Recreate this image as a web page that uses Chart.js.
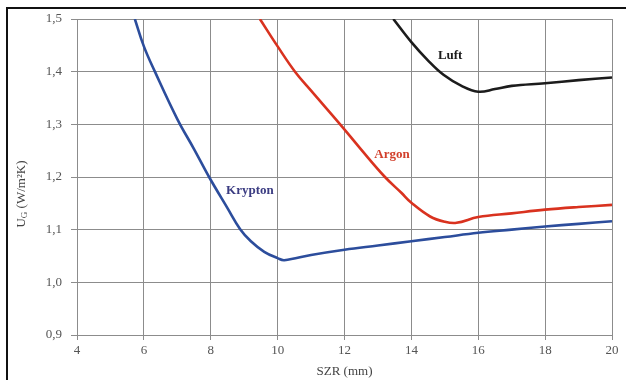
<!DOCTYPE html>
<html>
<head>
<meta charset="utf-8">
<script src="https://cdn.jsdelivr.net/npm/chart.js@4"></script>
<style>
    html, body { margin: 0; padding: 0; background: #fff; }
    #wrap { position: relative; width: 626px; height: 380px; }
    #frame { position: absolute; left: 6px; top: 7px; right: 0; bottom: 0;
             border-left: 2px solid #111; border-top: 2px solid #111; }
    #chart { position: absolute; left: 0; top: 0; }
</style>
</head>
<body>
<div id="wrap">
    <div id="frame"></div>
    <canvas id="chart" width="626" height="380"></canvas>
</div>
<script>
    // Werte (SZR in mm, Ug in W/m²K)
    const kryptonX = [5.73, 6, 6.33, 7, 7.5, 7.95, 8.5, 8.88, 9.2, 9.6, 10, 10.2, 11, 12, 13, 14, 15, 16, 17, 18, 19, 20];
    const kryptonY = [1.5, 1.448, 1.4, 1.31, 1.253, 1.2, 1.141, 1.101, 1.078, 1.058, 1.046, 1.042, 1.052, 1.062, 1.07, 1.078, 1.086, 1.094, 1.1, 1.106, 1.111, 1.116];

    const argonX = [9.47, 10, 10.52, 11, 11.87, 12.5, 13.21, 13.7, 14, 14.56, 15, 15.35, 16, 17, 18, 19, 20];
    const argonY = [1.5, 1.448, 1.4, 1.364, 1.3, 1.252, 1.2, 1.17, 1.151, 1.125, 1.115, 1.113, 1.124, 1.131, 1.138, 1.143, 1.147];

    const luftX = [13.46, 14, 14.5, 14.96, 15.5, 16, 16.5, 17, 18, 19, 20];
    const luftY = [1.5, 1.456, 1.421, 1.394, 1.373, 1.362, 1.367, 1.373, 1.378, 1.384, 1.389];

    const serienNamen = ['Krypton', 'Argon', 'Luft'];
    const linienFarben = ['#2c4d9c', '#d9321f', '#1c1c1c'];
    const textFarben = ['#3b3c82', '#d2402c', '#1c1c1c'];
    // Position der Beschriftungen (Datenkoordinaten)
    const labelX = [9.17, 13.42, 15.16];
    const labelY = [1.175, 1.242, 1.43];

    function punkte(xs, ys) {
        return xs.map((x, i) => ({ x: x, y: ys[i] }));
    }

    const serienDaten = [
        punkte(kryptonX, kryptonY),
        punkte(argonX, argonY),
        punkte(luftX, luftY)
    ];

    const schrift = '"Liberation Serif", "DejaVu Serif", serif';
    const gitter = '#8c8c8c';

    const beschriftungen = {
        id: 'beschriftungen',
        afterDatasetsDraw(chart) {
            const ctx = chart.ctx;
            const sx = chart.scales.x;
            const sy = chart.scales.y;
            ctx.save();
            ctx.font = 'bold 13px ' + schrift;
            ctx.textAlign = 'center';
            ctx.textBaseline = 'middle';
            serienNamen.forEach((name, i) => {
                ctx.fillStyle = textFarben[i];
                ctx.fillText(name, sx.getPixelForValue(labelX[i]), sy.getPixelForValue(labelY[i]));
            });
            ctx.restore();

            // y-Achsentitel mit tiefgestelltem G
            ctx.save();
            ctx.translate(22, 194);
            ctx.rotate(-Math.PI / 2);
            ctx.fillStyle = '#444';
            ctx.textBaseline = 'middle';
            ctx.textAlign = 'left';
            const teilA = 'U', teilB = 'G', teilC = ' (W/m\u00b2K)';
            ctx.font = '13px ' + schrift;
            const wA = ctx.measureText(teilA).width;
            const wC = ctx.measureText(teilC).width;
            ctx.font = '9px ' + schrift;
            const wB = ctx.measureText(teilB).width;
            let x0 = -(wA + wB + wC) / 2;
            ctx.font = '13px ' + schrift;
            ctx.fillText(teilA, x0, 0);
            ctx.font = '9px ' + schrift;
            ctx.fillText(teilB, x0 + wA, 3);
            ctx.font = '13px ' + schrift;
            ctx.fillText(teilC, x0 + wA + wB, 0);
            ctx.restore();
        }
    };

    new Chart(document.getElementById('chart').getContext('2d'), {
        type: 'line',
        data: {
            datasets: serienNamen.map((name, i) => ({
                label: name,
                data: serienDaten[i],
                borderColor: linienFarben[i],
                borderWidth: 2.6,
                pointRadius: 0,
                fill: false,
                tension: 0.4
            }))
        },
        options: {
            responsive: false,
            animation: false,
            layout: {
                padding: { top: 19, right: 14, left: 0, bottom: 0 }
            },
            plugins: {
                legend: { display: false },
                tooltip: { enabled: false }
            },
            scales: {
                x: {
                    type: 'linear',
                    min: 4,
                    max: 20,
                    afterFit: function(scale) { scale.height = 45; },
                    ticks: {
                        stepSize: 2,
                        color: '#555',
                        padding: 3,
                        font: { family: schrift, size: 13 }
                    },
                    grid: { color: gitter, tickLength: 5 },
                    border: { color: gitter },
                    title: {
                        display: true,
                        text: 'SZR (mm)',
                        color: '#444',
                        padding: { top: 2, bottom: 1 },
                        font: { family: schrift, size: 13 }
                    }
                },
                y: {
                    min: 0.9,
                    max: 1.5,
                    afterFit: function(scale) { scale.width = 77; },
                    ticks: {
                        stepSize: 0.1,
                        color: '#555',
                        padding: 9,
                        font: { family: schrift, size: 13 },
                        callback: function(value) {
                            return value.toFixed(1).replace('.', ',');
                        }
                    },
                    grid: { color: gitter, tickLength: 6 },
                    border: { color: gitter }
                }
            }
        },
        plugins: [beschriftungen]
    });
</script>
</body>
</html>
